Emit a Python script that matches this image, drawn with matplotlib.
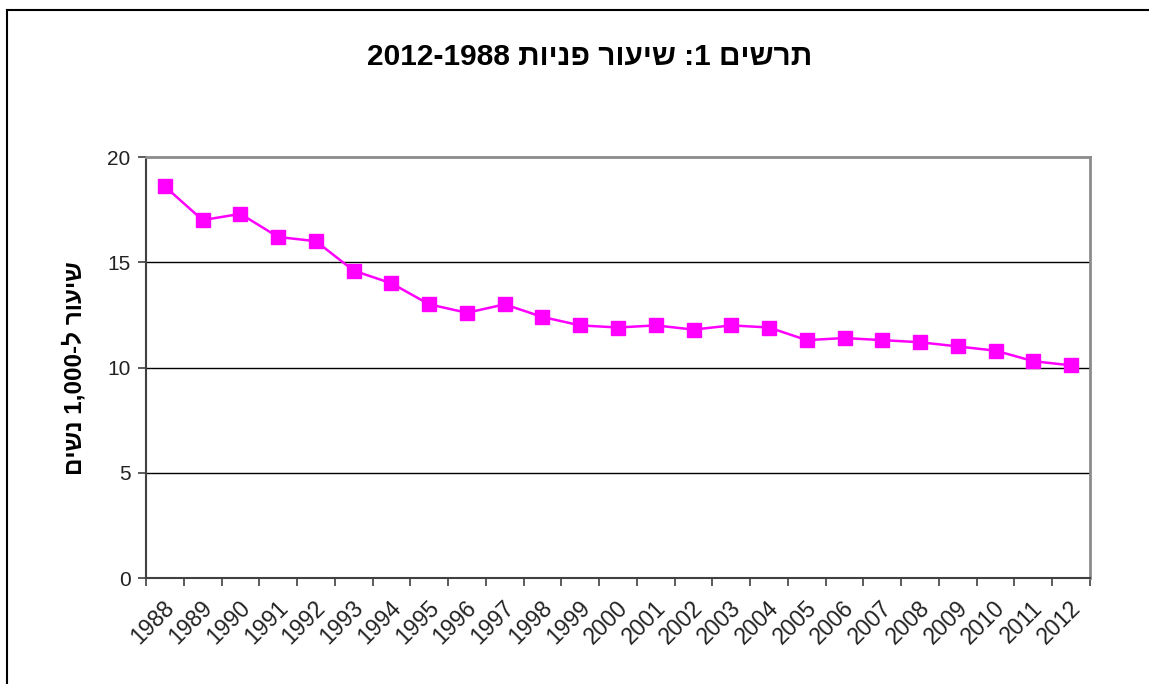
import matplotlib
matplotlib.use("Agg")
import matplotlib.pyplot as plt
import matplotlib.transforms as mtransforms
from matplotlib.lines import Line2D

plt.rcParams["font.family"] = ["Liberation Sans", "DejaVu Sans"]

# data
years = [str(y) for y in range(1988, 2013)]
rates = [18.6, 17.0, 17.3, 16.2, 16.0, 14.6, 14.0, 13.0, 12.6, 13.0, 12.4, 12.0,
         11.9, 12.0, 11.8, 12.0, 11.9, 11.3, 11.4, 11.3, 11.2, 11.0, 10.8, 10.3, 10.1]
y_ticks = [0, 5, 10, 15, 20]

# hebrew strings in visual (left to right) order
title_text = "2012-1988 תוינפ רועיש :1 םישרת"
ylabel_text = "םישנ 1,000-ל רועיש"

W, H = 1149, 684
fig = plt.figure(figsize=(W / 100, H / 100), dpi=100)
ax = fig.add_axes([146 / W, 1 - 578 / H, 944 / W, 421 / H])

x = list(range(len(years)))
ax.plot(x, rates, color="#FF00FF", linewidth=1.8, marker="s", markersize=9.5,
        markerfacecolor="#FF00FF", markeredgecolor="#FF00FF", zorder=3)

ax.set_xlim(-0.5, len(years) - 0.5)
ax.set_ylim(0, 20)

# grid lines
for v in [5, 10, 15]:
    ax.axhline(v, color="black", linewidth=1.0, zorder=1)

# spines
for s in ["left", "bottom"]:
    ax.spines[s].set_color("#404040")
    ax.spines[s].set_linewidth(1.5)
for s in ["top", "right"]:
    ax.spines[s].set_color("#8c8c8c")
    ax.spines[s].set_linewidth(2.0)

ax.set_yticks(y_ticks)
ax.set_yticklabels([str(v) for v in y_ticks], fontsize=15, color="#222222")
ax.tick_params(axis="y", direction="out", length=6, width=1.2, color="#404040", pad=5)

# category boundaries as major ticks, labels at centers
ax.set_xticks([i - 0.5 for i in range(len(years) + 1)])
ax.set_xticklabels([])
ax.tick_params(axis="x", which="major", direction="out", length=6, width=1.2, color="#404040")
ax.set_xticks(x, minor=True)
ax.set_xticklabels(years, minor=True, rotation=45, ha="right", va="top",
                   rotation_mode="anchor", fontsize=16.5, color="#222222")
ax.tick_params(axis="x", which="minor", length=0, pad=13)
offset = mtransforms.ScaledTranslation(-2 / 100, 0, fig.dpi_scale_trans)
for lbl in ax.get_xticklabels(minor=True):
    lbl.set_transform(lbl.get_transform() + offset)

fig.text(590 / W, 1 - 57 / H, title_text, fontsize=21.5, fontweight="bold",
         ha="center", va="center")
fig.text(75 / W, 1 - 368 / H, ylabel_text, fontsize=17.5, fontweight="bold",
         rotation=90, ha="center", va="center")

# outer frame (top and left edges visible)
fig.add_artist(Line2D([7 / W, 1.0], [1 - 10 / H, 1 - 10 / H], color="black",
                      linewidth=1.5, transform=fig.transFigure))
fig.add_artist(Line2D([7 / W, 7 / W], [0.0, 1 - 10 / H], color="black",
                      linewidth=1.5, transform=fig.transFigure))

fig.savefig("out.png", dpi=100)
